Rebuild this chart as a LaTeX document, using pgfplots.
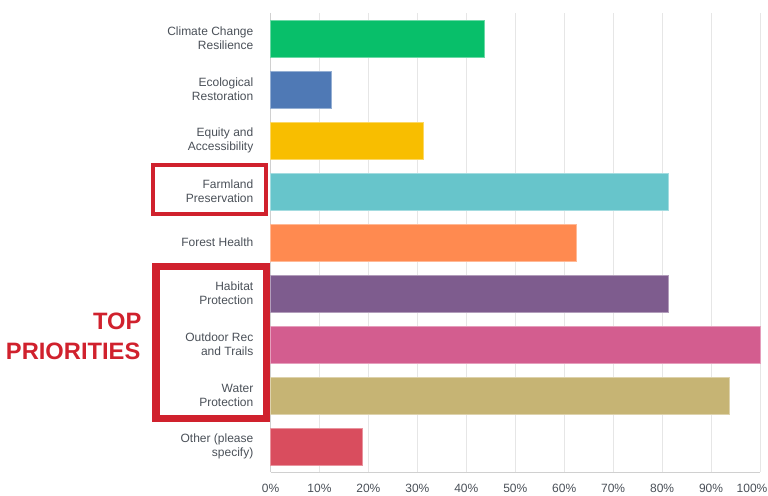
\documentclass[border=0pt]{standalone}
\usepackage{pgfplots}
\pgfplotsset{compat=1.18}
\usepackage{fontspec}
\setmainfont{Liberation Sans}
\definecolor{cgreen}{HTML}{08BF6A}
\definecolor{cblue}{HTML}{4F79B5}
\definecolor{cyellow}{HTML}{F8BE00}
\definecolor{cteal}{HTML}{67C5CB}
\definecolor{corange}{HTML}{FF8A50}
\definecolor{cpurple}{HTML}{7E5C8E}
\definecolor{cpink}{HTML}{D35D8F}
\definecolor{ctan}{HTML}{C6B474}
\definecolor{cred}{HTML}{D94D5E}
\definecolor{boxred}{HTML}{D0212D}
\definecolor{labgray}{HTML}{4A5058}
\definecolor{gridgray}{HTML}{E6E6E6}
\definecolor{axgray}{HTML}{D0D0D0}
\begin{document}
\begin{tikzpicture}[x=1bp,y=1bp]
\begin{axis}[
  at={(270.5bp,24bp)}, anchor=south west,
  scale only axis, width=489.5bp, height=459bp,
  xbar, bar width=37bp, bar shift=0pt,
  xmin=0, xmax=100, ymin=-0.5, ymax=8.5,
  y dir=reverse,
  axis x line*=bottom, axis y line*=left,
  axis line style={draw=axgray, line width=1bp},
  xtick={0,10,...,100},
  ytick={0,...,8},
  major tick length=0pt,
  xmajorgrids, major x grid style={draw=gridgray, line width=1bp},
  xticklabels={0\%,10\%,20\%,30\%,40\%,50\%,60\%,70\%,80\%,90\%,{100\%\hspace*{16bp}}},
  xticklabel style={inner sep=0pt, yshift=-12bp, font=\fontsize{12bp}{14bp}\selectfont, text=labgray},
  yticklabels={{Climate Change\\Resilience},{Ecological\\Restoration},{Equity and\\Accessibility},{Farmland\\Preservation},{Forest Health},{Habitat\\Protection},{Outdoor Rec\\and Trails},{Water\\Protection},{Other (please\\specify)}},
  yticklabel style={inner sep=0pt, xshift=-17bp, align=right, font=\fontsize{12bp}{14bp}\selectfont, text=labgray},
  clip=false,
]
\addplot[fill=cgreen, draw=cgreen!60!white, line width=0.8bp] coordinates {(43.75,0)};
\addplot[fill=cblue, draw=cblue!60!white, line width=0.8bp] coordinates {(12.5,1)};
\addplot[fill=cyellow, draw=cyellow!60!white, line width=0.8bp] coordinates {(31.25,2)};
\addplot[fill=cteal, draw=cteal!60!white, line width=0.8bp] coordinates {(81.25,3)};
\addplot[fill=corange, draw=corange!60!white, line width=0.8bp] coordinates {(62.5,4)};
\addplot[fill=cpurple, draw=cpurple!60!white, line width=0.8bp] coordinates {(81.25,5)};
\addplot[fill=cpink, draw=cpink!60!white, line width=0.8bp] coordinates {(100,6)};
\addplot[fill=ctan, draw=ctan!60!white, line width=0.8bp] coordinates {(93.75,7)};
\addplot[fill=cred, draw=cred!60!white, line width=0.8bp] coordinates {(18.75,8)};
\end{axis}
% red boxes
\draw[boxred, line width=4bp] (153bp,{496-165}) rectangle (266bp,{496-214});
\draw[boxred, line width=7.5bp] (156bp,{496-266.5}) rectangle (266.5bp,{496-418.5});
\node[anchor=base east, inner sep=0pt, text=boxred, font=\fontsize{23.7bp}{26bp}\selectfont\bfseries] at (141.5,{496-329.3}) {TOP};
\node[anchor=base east, inner sep=0pt, text=boxred, font=\fontsize{23.7bp}{26bp}\selectfont\bfseries] at (140.5,{496-360}) {PRIORITIES};
\pgfresetboundingbox
\path[use as bounding box] (0,0) rectangle (768,496);
\end{tikzpicture}
\end{document}
